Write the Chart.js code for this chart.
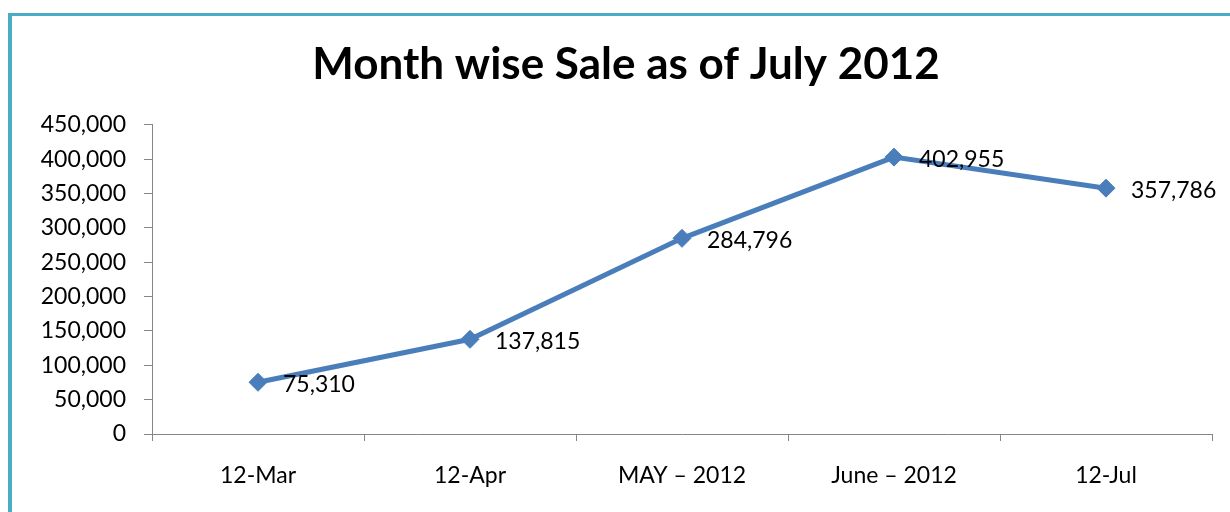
<!DOCTYPE html>
<html>
<head>
<meta charset="utf-8">
<script src="https://cdn.jsdelivr.net/npm/chart.js@4.4.1/dist/chart.umd.min.js"></script>
<style>
  html, body { margin: 0; padding: 0; background: #fff; overflow: hidden; }
  #frame { position: absolute; left: 8px; top: 13px; width: 1300px; height: 600px;
           border-left: 4px solid #4BACC6; border-top: 3px solid #4BACC6; }
  #wrap { position: absolute; left: 0; top: 0; width: 1230px; height: 512px; }
</style>
</head>
<body>
<div id="frame"></div>
<div id="wrap"><canvas id="sales-chart" width="1230" height="512"></canvas></div>
<script>
// month wise sale values
const months = ['12-Mar', '12-Apr', 'MAY \u2013 2012', 'June \u2013 2012', '12-Jul'];
const sales = [75310, 137815, 284796, 402955, 357786];
const yTicks = [0, 50000, 100000, 150000, 200000, 250000, 300000, 350000, 400000, 450000];

const fontFamily = 'Lato, "Open Sans", sans-serif';
const lineColor = '#4A7EBB';
const axisColor = '#868686';

const fmt = v => v.toLocaleString('en-US');

// draws value text to the right of each point
const pointLabels = {
  id: 'pointLabels',
  afterDatasetsDraw(chart) {
    const { ctx } = chart;
    const meta = chart.getDatasetMeta(0);
    ctx.save();
    ctx.font = '23px ' + fontFamily;
    ctx.fillStyle = '#000';
    ctx.textAlign = 'left';
    ctx.textBaseline = 'middle';
    meta.data.forEach((pt, i) => {
      ctx.fillText(fmt(sales[i]), pt.x + 25, pt.y + 2);
    });
    ctx.restore();
  }
};

new Chart(document.getElementById('sales-chart'), {
  type: 'line',
  data: {
    labels: months,
    datasets: [{
      label: 'Sale',
      data: sales,
      borderColor: lineColor,
      backgroundColor: lineColor,
      borderWidth: 5,
      pointStyle: 'rectRot',
      pointRadius: 9,
      pointBackgroundColor: lineColor,
      pointBorderColor: lineColor,
      pointBorderWidth: 1,
      tension: 0,
      clip: false,
    }]
  },
  options: {
    responsive: false,
    animation: false,
    layout: { padding: { left: 40, right: 18, top: 0, bottom: 0 } },
    plugins: {
      legend: { display: false },
      tooltip: { enabled: false },
      title: {
        display: true,
        text: 'Month wise Sale as of July 2012',
        color: '#000',
        font: { family: fontFamily, size: 44, weight: 'bold' },
        padding: { top: 38, bottom: 34 },
      },
    },
    scales: {
      x: {
        offset: true,
        grid: { offset: true, drawOnChartArea: false, drawTicks: true, tickLength: 7, color: axisColor, lineWidth: 1 },
        border: { display: true, color: axisColor, width: 1 },
        ticks: { color: '#000', font: { family: fontFamily, size: 23 }, padding: 21, maxRotation: 0 },
        afterFit: s => { s.height = 78; },
      },
      y: {
        min: 0,
        max: 450000,
        afterBuildTicks: s => { s.ticks = yTicks.map(v => ({ value: v })); },
        grid: { drawOnChartArea: false, drawTicks: true, tickLength: 8, color: axisColor, lineWidth: 1 },
        border: { display: true, color: axisColor, width: 1 },
        ticks: { color: '#000', font: { family: fontFamily, size: 23 }, padding: 18, callback: v => fmt(v) },
        afterFit: s => { s.width = 112; },
      }
    }
  },
  plugins: [pointLabels]
});
</script>
</body>
</html>
